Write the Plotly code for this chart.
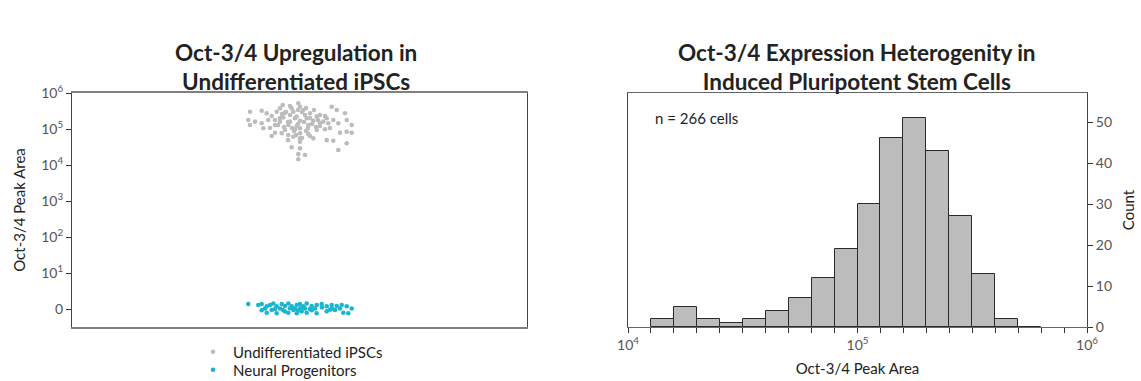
import plotly.graph_objects as go
from plotly.subplots import make_subplots

# ---------------- data ----------------
# Left panel: jittered strip plot (jitter offset, peak area)
ipsc_jitter = [-0.173, -0.017, 0.0, -0.083, -0.20, 0.317,
               -0.50, -0.383, -0.333, -0.233, -0.15, -0.067, 0.033, 0.10, 0.20, 0.367, 0.45,
               -0.283, -0.167, -0.033, 0.067, 0.167, 0.267,
               -0.517, -0.45, -0.317, -0.20, -0.10, 0.0, 0.133, 0.233, 0.333, 0.467,
               -0.50, -0.383, -0.25, -0.117, -0.033, 0.083, 0.20, 0.283, 0.383, 0.517,
               -0.367, -0.15, -0.05, 0.0, 0.167, 0.25, 0.467,
               -0.25, -0.183, -0.117, 0.0, 0.083, 0.40, 0.517,
               -0.283, -0.067, 0.0, 0.133, 0.267, 0.333,
               0.0, 0.467, -0.083, 0.0, 0.383, -0.017, 0.05, -0.017,
               -0.10, -0.05, 0.05, 0.10, -0.12, -0.02, 0.04, 0.12, -0.16, -0.08, 0.08, 0.16,
               -0.20, -0.14, 0.02, 0.18, -0.06, 0.06, -0.22, 0.20, -0.04, 0.02, -0.12, 0.10,
               -0.30, 0.30, -0.25, 0.25, -0.10, 0.06, 0.14, -0.18, -0.02]
ipsc_area = [464e3, 518e3, 416e3, 376e3, 376e3, 416e3,
             302e3, 322e3, 273e3, 302e3, 284e3, 302e3, 337e3, 273e3, 245e3, 337e3, 273e3,
             230e3, 211e3, 220e3, 198e3, 220e3, 198e3,
             178e3, 160e3, 178e3, 160e3, 160e3, 170e3, 170e3, 160e3, 178e3, 178e3,
             129e3, 144e3, 129e3, 129e3, 121e3, 129e3, 121e3, 144e3, 144e3, 129e3,
             105e3, 94e3, 98e3, 105e3, 94e3, 98e3, 84e3,
             79e3, 76e3, 68e3, 76e3, 73e3, 79e3, 79e3,
             64e3, 61e3, 55e3, 55e3, 49e3, 47e3,
             44e3, 40e3, 31e3, 29e3, 26e3, 20e3, 19e3, 14.4e3,
             245e3, 200e3, 245e3, 200e3, 156e3, 138e3, 156e3, 138e3, 113e3, 107e3, 107e3, 113e3,
             200e3, 296e3, 296e3, 178e3, 88e3, 88e3, 129e3, 147e3, 68e3, 56e3, 49e3, 64e3,
             107e3, 107e3, 178e3, 230e3, 435e3, 380e3, 337e3, 262e3, 337e3]

npc_jitter = [-0.517, -0.417, -0.383, -0.333, -0.30, -0.267, -0.233, -0.183, -0.15, -0.117,
              -0.083, -0.033, 0.0, 0.033, 0.067, 0.117, 0.167, 0.217, 0.267, 0.317,
              0.367, 0.417, 0.467, 0.517,
              -0.383, -0.333, -0.283, -0.233, -0.167, -0.117, -0.067, -0.033, 0.017, 0.067,
              0.117, 0.167, 0.267, 0.35, 0.433, 0.483,
              -0.35, -0.20, -0.05, 0.0, 0.05, 0.15, 0.32, 0.40,
              -0.02, 0.02, -0.10, 0.10, 0.22, -0.25, 0.30, -0.15]
npc_area = [1.38, 1.29, 1.38, 1.19, 1.29, 1.42, 1.19, 1.38, 1.21, 1.42,
            1.19, 1.29, 1.38, 1.19, 1.42, 1.21, 1.29, 1.38, 1.19, 1.29,
            1.21, 1.29, 1.19, 1.03,
            0.92, 0.79, 0.94, 0.76, 0.92, 0.79, 0.94, 0.76, 0.86, 0.79,
            0.92, 0.76, 0.86, 0.94, 0.79, 0.76,
            1.03, 1.03, 1.03, 1.03, 1.03, 1.03, 1.03, 1.03,
            0.90, 1.10, 1.05, 1.00, 1.10, 1.00, 0.95, 0.85]

left_tickvals = [1, 10, 100, 1e3, 1e4, 1e5, 1e6]
left_ticktext = ["0", "10<sup>1</sup>", "10<sup>2</sup>", "10<sup>3</sup>",
                 "10<sup>4</sup>", "10<sup>5</sup>", "10<sup>6</sup>"]

# Right panel: histogram of log10(peak area), bins of 0.1 decade
bin_start_log10 = [4.1, 4.2, 4.3, 4.4, 4.5, 4.6, 4.7, 4.8, 4.9,
                   5.0, 5.1, 5.2, 5.3, 5.4, 5.5, 5.6, 5.7]
bin_counts = [2, 5, 2, 1, 2, 4, 7, 12, 19, 30, 46, 51, 43, 27, 13, 2, 0]
bin_width = 0.1
right_tickvals = [4, 5, 6]
right_ticktext = ["10<sup>4</sup>", "10<sup>5</sup>", "10<sup>6</sup>"]

# ---------------- figure ----------------
W, H = 1141, 381
ML, MR, MT, MB = 72, 54, 93, 54
PW, PH = W - ML - MR, H - MT - MB
FONT = "Lato"
TXT = "#222222"
TICK = "#555555"
GRAY_PT = "#bcbcbc"
CYAN = "#1ab6cf"


def px(xp):
    return (xp - ML) / PW


def py(yp):
    return (H - MB - yp) / PH


fig = make_subplots(rows=1, cols=2)

fig.add_trace(go.Scatter(x=ipsc_jitter, y=ipsc_area, mode="markers",
                         name="Undifferentiated iPSCs", legend="legend",
                         marker=dict(color=GRAY_PT, size=4.6)), row=1, col=1)
fig.add_trace(go.Scatter(x=npc_jitter, y=npc_area, mode="markers",
                         name="Neural Progenitors", legend="legend2",
                         marker=dict(color=CYAN, size=4.6)), row=1, col=1)

fig.add_trace(go.Bar(x=[b + bin_width / 2 for b in bin_start_log10], y=bin_counts,
                     width=bin_width, showlegend=False,
                     marker=dict(color="#bcbcbc", line=dict(color="#2a2a2a", width=1))),
              row=1, col=2)

legend_common = dict(xanchor="left", yanchor="middle", font=dict(size=15, color=TXT),
                     itemsizing="trace", bgcolor="rgba(0,0,0,0)", borderwidth=0)

fig.update_layout(
    width=W, height=H,
    margin=dict(l=ML, r=MR, t=MT, b=MB, autoexpand=False),
    paper_bgcolor="white", plot_bgcolor="white",
    font=dict(family=FONT, size=15, color=TXT),
    bargap=0,
    legend=dict(x=px(193), y=py(352), **legend_common),
    legend2=dict(x=px(193), y=py(370), **legend_common),
    xaxis=dict(domain=[0, px(527)], range=[-2.28, 2.27], showticklabels=False,
               ticks="", showgrid=False, zeroline=False, showline=True, mirror=True,
               linecolor="#808080", linewidth=1.5, automargin=False),
    yaxis=dict(domain=[0, 1], type="log", range=[-0.5, 6], tickvals=left_tickvals,
               ticktext=left_ticktext, ticks="outside", ticklen=5, tickcolor="#333",
               tickfont=dict(size=14, color=TICK), showgrid=False, zeroline=False,
               showline=True, mirror=True, linecolor="#444444", linewidth=1,
               automargin=False,
               title=dict(text="Oct-3/4 Peak Area", font=dict(size=15, color=TXT), standoff=12)),
    xaxis2=dict(domain=[px(628), 1], range=[4, 6], tickvals=right_tickvals,
                ticktext=right_ticktext, ticks="outside", ticklen=5, tickcolor="#333",
                minor=dict(dtick=0.1, ticks="outside", ticklen=5, tickcolor="#333"),
                tickfont=dict(size=14, color=TICK), showgrid=False, zeroline=False,
                showline=True, mirror=True, linecolor="#666666", linewidth=1.2,
                automargin=False,
                title=dict(text="Oct-3/4 Peak Area", font=dict(size=15, color=TXT), standoff=11)),
    yaxis2=dict(domain=[0, 1], range=[0, 57.1], dtick=10, side="right",
                ticks="outside", ticklen=5, tickcolor="#333",
                tickfont=dict(size=14, color=TICK), showgrid=False, zeroline=False,
                showline=True, mirror=True, linecolor="#444444", linewidth=1,
                automargin=False,
                title=dict(text="Count", font=dict(size=15, color=TXT), standoff=12)),
)

fig.add_annotation(text="<b>Oct-3/4 Upregulation in<br>Undifferentiated iPSCs</b>",
                   xref="paper", yref="paper", x=px(296), y=py(37),
                   xanchor="center", yanchor="top", showarrow=False,
                   font=dict(family=FONT, size=22.5, color=TXT))
fig.add_annotation(text="<b>Oct-3/4 Expression Heterogenity in<br>Induced Pluripotent Stem Cells</b>",
                   xref="paper", yref="paper", x=px(857), y=py(37),
                   xanchor="center", yanchor="top", showarrow=False,
                   font=dict(family=FONT, size=22.5, color=TXT))
fig.add_annotation(text="n = 266 cells", xref="paper", yref="paper",
                   x=px(653), y=py(118), xanchor="left", yanchor="middle",
                   showarrow=False, font=dict(size=15, color=TXT))

fig.write_html("out.html", config={"displayModeBar": False},
               post_script="document.body.style.margin='0';document.body.style.overflow='hidden';")
